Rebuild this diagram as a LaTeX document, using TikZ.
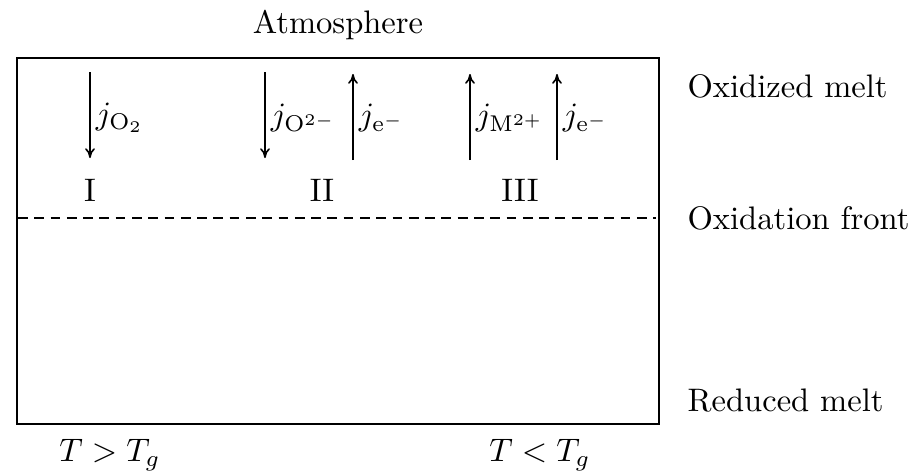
\documentclass[tikz,border=0pt]{standalone}
\usetikzlibrary{arrows.meta}
\begin{document}
\begin{tikzpicture}[x=0.307pt,y=-0.307pt,
  lbl/.style={anchor=west,inner sep=0pt},
  flux/.style={line width=0.5pt,-{To[length=3pt,width=3pt]}},
  jl/.style={anchor=west,inner sep=1pt}]
\useasboundingbox (0,0) rectangle (916,474);
\node[draw,line width=0.6pt,minimum width=642*0.307pt,minimum height=366*0.307pt,inner sep=0pt,anchor=north west] (box) at (16,57) {};
\coordinate (dl) at (18,218);
\coordinate (dr) at (656,218);
\draw[dashed,line width=0.5pt,dash pattern=on 3pt off 2pt] (dl) -- (dr);
\node (atm) at (338,25) {Atmosphere};
\node[lbl] (ox) at (687,86) {Oxidized melt};
\node[lbl] (of) at (687,218) {Oxidation front};
\node[lbl] (rm) at (687,401) {Reduced melt};
\node (t1) at (110,455) {$T>T_g$};
\node (t2) at (540,455) {$T<T_g$};
% arrows
\coordinate (a1t) at (90,72); \coordinate (a1b) at (90,158);
\coordinate (a2t) at (265,72); \coordinate (a2b) at (265,158);
\coordinate (a3t) at (353,74); \coordinate (a3b) at (353,160);
\coordinate (a4t) at (470,74); \coordinate (a4b) at (470,160);
\coordinate (a5t) at (557,74); \coordinate (a5b) at (557,160);
\draw[flux] (a1t) -- (a1b);
\draw[flux] (a2t) -- (a2b);
\draw[flux] (a3b) -- (a3t);
\draw[flux] (a4b) -- (a4t);
\draw[flux] (a5b) -- (a5t);
\node[jl] (j1) at (92,118) {$j_{\mathrm{O}_2}$};
\node[jl] (j2) at (267,118) {$j_{\mathrm{O}^{2-}}$};
\node[jl] (j3) at (355,118) {$j_{\mathrm{e}^-}$};
\node[jl] (j4) at (472,118) {$j_{\mathrm{M}^{2+}}$};
\node[jl] (j5) at (559,118) {$j_{\mathrm{e}^-}$};
\node (r1) at (90,190) {I};
\node (r2) at (322,190) {II};
\node (r3) at (520,190) {III};
\end{tikzpicture}
\end{document}
